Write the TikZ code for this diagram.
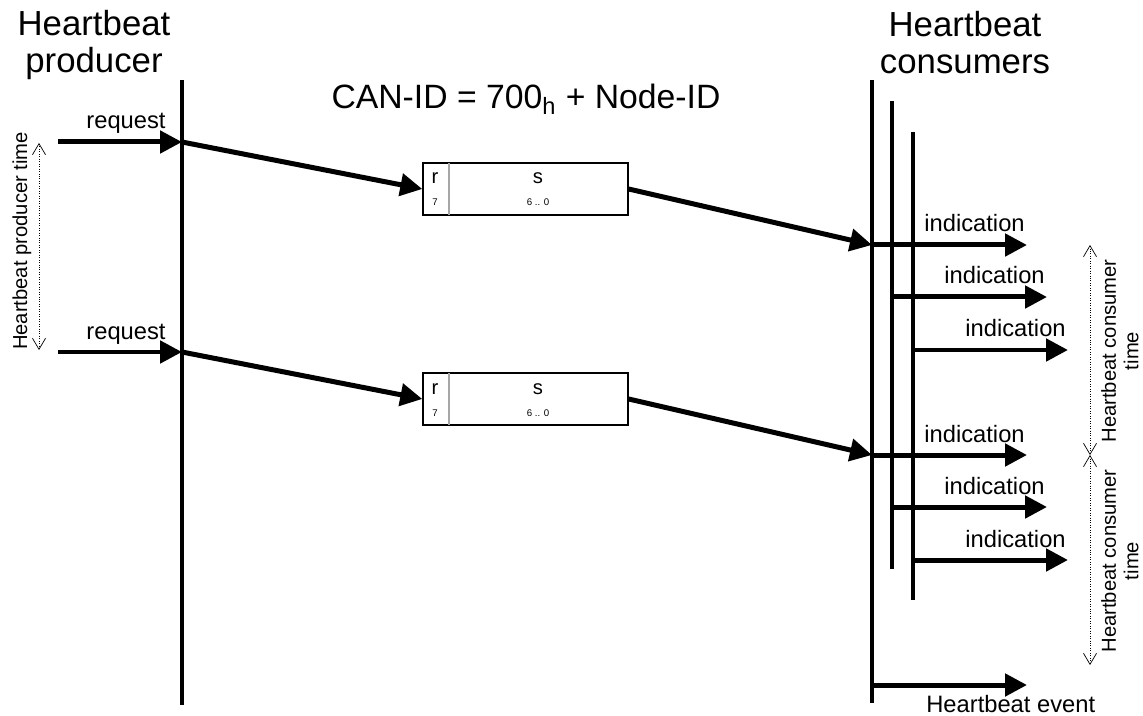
\documentclass[tikz,border=0pt]{standalone}
\usepackage{fontspec}
\setmainfont{Liberation Sans}
\usetikzlibrary{arrows.meta}

\tikzset{
  lifeline/.style={line width=0.08cm},
  sig/.style={line width=0.1cm,-{Triangle[length=0.44cm,width=0.44cm]}},
  span/.style={densely dotted,line width=0.4pt,
    {Straight Barb[length=0.22cm,width=0.26cm]}-{Straight Barb[length=0.22cm,width=0.26cm]}},
  head/.style={font=\fontsize{19.8}{20.8}\selectfont,inner sep=0,align=center},
  lbl/.style={font=\fontsize{13.5}{16}\selectfont,inner sep=0},
  spantxt/.style={font=\fontsize{11.5}{12.8}\selectfont,inner sep=0,align=center,rotate=90},
  msgbox/.style={draw,line width=0.8pt,minimum width=4.1cm,minimum height=1.04cm,inner sep=0},
  boxtxt/.style={font=\fontsize{11.5}{12}\selectfont,inner sep=0},
  bittxt/.style={font=\fontsize{5.5}{6}\selectfont,inner sep=0}
}

\begin{document}
\begin{tikzpicture}[x=0.02cm,y=-0.02cm]
  \useasboundingbox (0,0) rectangle (1143,716);

  % headings
  \node[head,anchor=north] (prodhead) at (94,10) {Heartbeat\\producer};
  \node[head,anchor=north] (conshead) at (965,11) {Heartbeat\\consumers};
  \node[font=\fontsize{19.2}{20}\selectfont,inner sep=0,anchor=base] (canid) at (526,109)
    {CAN-ID = 700\textsubscript{h} + Node-ID};

  % life lines
  \coordinate (prodtop) at (182,80);
  \coordinate (prodbot) at (182,705);
  \coordinate (consAtop) at (872,80);
  \coordinate (consAbot) at (872,703);
  \coordinate (consBtop) at (892,101);
  \coordinate (consBbot) at (892,569);
  \coordinate (consCtop) at (913,132);
  \coordinate (consCbot) at (913,600);
  \draw[lifeline] (prodtop) -- (prodbot);
  \draw[lifeline] (consAtop) -- (consAbot);
  \draw[lifeline] (consBtop) -- (consBbot);
  \draw[lifeline] (consCtop) -- (consCbot);

  % producer time
  \coordinate (ptA) at (39,143);
  \coordinate (ptB) at (39,350);
  \draw[span] (ptA) -- (ptB);
  \node[spantxt] (ptime) at (22,241) {Heartbeat producer time};

  % one heartbeat period
  \foreach \i/\dy in {1/0,2/210}{
  \begin{scope}[shift={(0,\dy)}]
    \coordinate (req\i) at (58,142);
    \coordinate (send\i) at (182,142);
    \draw[sig] (req\i) -- (send\i);
    \node[lbl,anchor=base] (rq\i) at (126,129) {request};

    \node[msgbox] (msg\i) at (525.5,189) {};
    \draw[gray!70,line width=0.6pt] (449,163) -- (449,215);
    \node[boxtxt,anchor=base] (r\i) at (435,184) {r};
    \node[bittxt,anchor=base] (rb\i) at (435,206) {7};
    \node[boxtxt,anchor=base] (s\i) at (538,184) {s};
    \node[bittxt,anchor=base] (sb\i) at (538,206) {6 .. 0};

    \draw[sig] (send\i) -- (msg\i.west);
    \coordinate (recv\i) at (872,245);
    \draw[sig] (msg\i.east) -- (recv\i);

    \coordinate (indA\i) at (1027,245);
    \coordinate (fromB\i) at (892,297);
    \coordinate (indB\i) at (1047,297);
    \coordinate (fromC\i) at (913,350);
    \coordinate (indC\i) at (1068,350);
    \draw[sig] (recv\i) -- (indA\i);
    \draw[sig] (fromB\i) -- (indB\i);
    \draw[sig] (fromC\i) -- (indC\i);
    \node[lbl,anchor=base east] (iA\i) at (1025,232) {indication};
    \node[lbl,anchor=base east] (iB\i) at (1045,284) {indication};
    \node[lbl,anchor=base east] (iC\i) at (1066,337) {indication};

    \coordinate (ctA\i) at (1090,245);
    \coordinate (ctB\i) at (1090,455);
    \draw[span] (ctA\i) -- (ctB\i);
    \node[spantxt] (ctime\i) at (1120,351) {Heartbeat consumer\\time};
  \end{scope}
  }

  % heartbeat event
  \coordinate (evfrom) at (872,685);
  \coordinate (evto) at (1027,685);
  \draw[sig] (evfrom) -- (evto);
  \node[lbl,anchor=base west] (hbevent) at (926,712) {Heartbeat event};
\end{tikzpicture}
\end{document}
